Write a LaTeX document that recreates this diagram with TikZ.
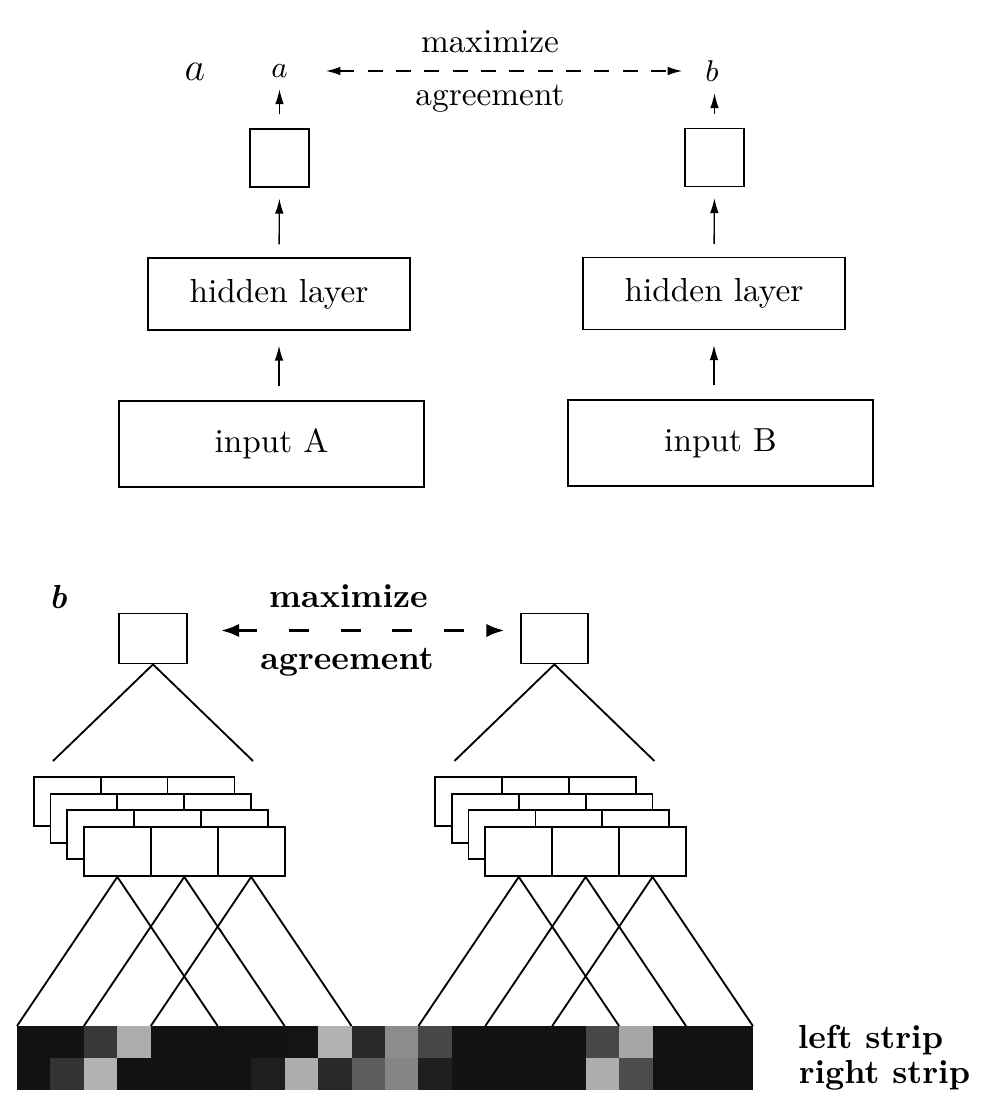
\documentclass[tikz,border=0pt]{standalone}
\usepackage{tikz}
\usetikzlibrary{arrows.meta,calc,positioning}

\tikzset{
  unitbox/.style={draw, minimum width=17.7pt, minimum height=17.4pt, inner sep=0pt},
  hidbox/.style={draw, minimum width=78.6pt, minimum height=21.6pt},
  inbox/.style={draw, minimum width=91.5pt, minimum height=25.8pt},
  feed/.style={-{Latex[length=4.5pt,width=2.6pt]}},
  agree/.style={{Latex[length=4.5pt,width=2.6pt]}-{Latex[length=4.5pt,width=2.6pt]}, dash pattern=on 4.5pt off 4pt, line width=0.6pt},
  topbox/.style={draw, line width=0.55pt, minimum width=20.25pt, minimum height=15pt, inner sep=0pt},
  cellbox/.style={draw, fill=white, line width=0.55pt, minimum width=20.07pt, minimum height=14.7pt, inner sep=0pt},
  agreeb/.style={{Latex[length=5.5pt,width=4pt]}-{Latex[length=5.5pt,width=4pt]}, dash pattern=on 6pt off 9.5pt, line width=1pt},
}

\begin{document}
\begin{tikzpicture}[x=30pt,y=30pt]
\useasboundingbox (0,0) rectangle (9.92,11.16);
% part a
\node (lbla) at (1.95,10.44) {\large $a$};
\node[font=\small] (outa) at (2.795,10.45) {$a$};
\node[font=\small] (outb) at (7.12,10.45) {$b$};
\node (maxa) at (4.9,10.74) {maximize};
\node (agra) at (4.9,10.175) {agreement};
\node[unitbox] (proja) at (2.795,9.58) {};
\node[unitbox] (projb) at (7.145,9.585) {};
\node[hidbox] (hida) at (2.79,8.22) {hidden layer};
\node[hidbox] (hidb) at (7.14,8.225) {hidden layer};
\node[inbox] (inpa) at (2.715,6.72) {input A};
\node[inbox] (inpb) at (7.205,6.73) {input B};
\draw[agree, shorten <=7.8pt, shorten >=3.3pt] (outa) -- (outb);
\draw[feed, shorten <=4.2pt] (proja.north) -- (outa.south);
\draw[feed, shorten <=4.2pt] (projb.north) -- (projb.north |- outb.south);
\draw[feed, shorten <=3.9pt, shorten >=3.3pt] (hida.north) -- (proja.south);
\draw[feed, shorten <=3.9pt, shorten >=3.3pt] (hidb.north) -- (projb.south);
\draw[feed, shorten <=4.2pt, shorten >=4.5pt] (hida.south |- inpa.north) -- (hida.south);
\draw[feed, shorten <=4.2pt, shorten >=4.5pt] (hidb.south |- inpb.north) -- (hidb.south);
% part b
\node[font=\bfseries\itshape] (lblb) at (0.585,5.19) {b};
\node[font=\bfseries] (maxb) at (3.485,5.20) {maximize};
\node[font=\bfseries] (agrb) at (3.47,4.54) {agreement};
\node[topbox] (topl) at (1.53,4.775) {};
\node[topbox] (topr) at (5.544,4.775) {};
\draw[agreeb, shorten <=9.9pt, shorten >=4.5pt] ([yshift=2.4pt]topl.east) -- ([yshift=2.4pt]topr.west);
\coordinate (tl1) at (0.53,3.55);
\coordinate (tl2) at (2.53,3.55);
\coordinate (tr1) at (4.544,3.55);
\coordinate (tr2) at (6.544,3.55);
\draw[line width=0.55pt] (tl1) -- (topl.south) -- (tl2);
\draw[line width=0.55pt] (tr1) -- (topr.south) -- (tr2);
% stacked feature cards, back to front
\foreach \g/\dx in {l/0,r/4.014}
  \foreach \k in {0,...,3}
    \foreach \j in {1,2,3}
      \node[cellbox] (\g\k\j) at ({0.17+(1+2*\j)*0.3345+\dx-(3-\k)*0.16725},{2.645+(3-\k)*0.167}) {};
% strips
\foreach \g [count=\i from 0] in {93,93,78,32,93,93,93,93,92,30,84,45,72,93,93,93,93,72,35,93,93,93}
  \fill[black!\g] ({0.17+\i*0.3345},0.58) rectangle ++(0.3345,0.32);
\foreach \g [count=\i from 0] in {93,80,30,93,93,93,93,88,32,84,63,48,88,93,93,93,93,32,70,93,93,93}
  \fill[black!\g] ({0.17+\i*0.3345},0.26) rectangle ++(0.3345,0.32);
\foreach \i in {0,...,22}
  \coordinate (s\i) at ({0.17+\i*0.3345},0.90);
\foreach \j in {1,2,3} {
  \pgfmathtruncatemacro{\p}{2*\j-2}
  \pgfmathtruncatemacro{\q}{2*\j+4}
  \pgfmathtruncatemacro{\pp}{\p+12}
  \pgfmathtruncatemacro{\qq}{\q+12}
  \draw[line width=0.55pt] (s\p) -- (l3\j.south) -- (s\q);
  \draw[line width=0.55pt] (s\pp) -- (r3\j.south) -- (s\qq);
}
\node[font=\bfseries, anchor=west] (lstrip) at (7.86,0.76) {left strip};
\node[font=\bfseries, anchor=west] (rstrip) at (7.87,0.41) {right strip};
\end{tikzpicture}
\end{document}
